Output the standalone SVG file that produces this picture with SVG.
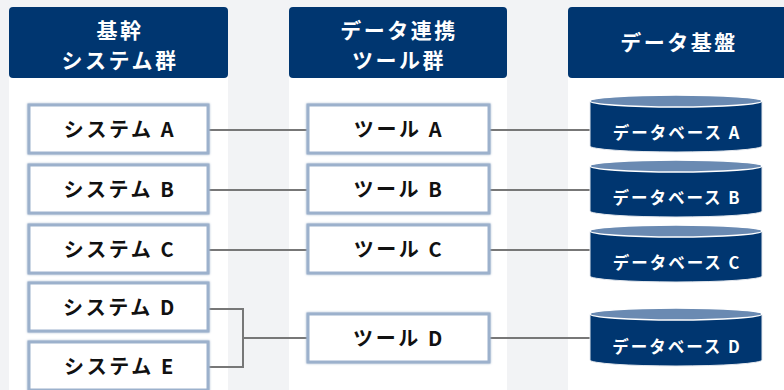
<svg xmlns="http://www.w3.org/2000/svg" width="784" height="390" viewBox="0 0 784 390">
<defs>
<style>
.hdr{fill:#003670}
.panel{fill:#ffffff}
.ht{font-family:"Noto Sans CJK JP","Noto Sans",sans-serif;font-weight:bold;font-size:21px;letter-spacing:2.5px;fill:#ffffff;text-anchor:middle}
.box{fill:#ffffff;stroke:#9cb1cc;stroke-width:3;filter:url(#soft)}
.bt{font-family:"Noto Sans CJK JP","Noto Sans",sans-serif;font-weight:bold;font-size:20px;letter-spacing:2.6px;fill:#111111;text-anchor:middle}
.dbb{fill:#003670;stroke:#e4e8ee;stroke-width:1}
.dbt{fill:#6a8ab2;stroke:#ffffff;stroke-width:1.5}
.dt{font-family:"Noto Sans CJK JP","Noto Sans",sans-serif;font-weight:bold;font-size:16.5px;letter-spacing:2px;fill:#ffffff;text-anchor:middle}
.conn{fill:none;stroke:#777777;stroke-width:2}
</style>
<filter id="soft" x="-10%" y="-20%" width="120%" height="140%">
<feGaussianBlur in="SourceGraphic" stdDeviation="0.9" result="b"/>
<feMerge><feMergeNode in="b"/><feMergeNode in="SourceGraphic"/></feMerge>
</filter>
</defs>
<rect width="784" height="390" fill="#f2f3f5"/>
<rect class="panel" x="9" y="10" width="219" height="380"/>
<rect class="panel" x="289" y="10" width="218" height="380"/>
<rect class="panel" x="568" y="10" width="216" height="380"/>

<g id="header1"><rect class="hdr" x="9" y="7" width="219" height="71" rx="4"/><text class="ht" x="120" y="38">基幹</text><text class="ht" x="120" y="68">システム群</text></g>
<g id="header2"><rect class="hdr" x="289" y="7" width="218" height="71" rx="4"/><text class="ht" x="399" y="38">データ連携</text><text class="ht" x="399" y="68">ツール群</text></g>
<g id="header3"><rect class="hdr" x="568" y="7" width="220" height="71" rx="4"/><text class="ht" x="679" y="50">データ基盤</text></g>

<g id="connectors">
<line class="conn" x1="209" y1="130" x2="307" y2="130"/>
<line class="conn" x1="209" y1="190" x2="307" y2="190"/>
<line class="conn" x1="209" y1="250" x2="307" y2="250"/>
<path class="conn" d="M208,309 H243 V367 H208 M243,338 H307"/>
<line class="conn" x1="490" y1="130" x2="590" y2="130"/>
<line class="conn" x1="490" y1="190" x2="590" y2="190"/>
<line class="conn" x1="490" y1="250" x2="590" y2="250"/>
<line class="conn" x1="490" y1="338" x2="590" y2="338"/>
</g>

<g id="sysA"><rect class="box" x="29" y="105" width="179" height="48"/><text class="bt" x="120" y="137">システム A</text></g>
<g id="sysB"><rect class="box" x="29" y="165" width="179" height="48"/><text class="bt" x="120" y="197">システム B</text></g>
<g id="sysC"><rect class="box" x="29" y="225" width="179" height="48"/><text class="bt" x="120" y="257">システム C</text></g>
<g id="sysD"><rect class="box" x="29" y="283" width="179" height="48"/><text class="bt" x="120" y="315">システム D</text></g>
<g id="sysE"><rect class="box" x="29" y="342" width="179" height="48"/><text class="bt" x="120" y="374">システム E</text></g>

<g id="toolA"><rect class="box" x="308" y="105" width="181" height="48"/><text class="bt" x="399" y="137">ツール A</text></g>
<g id="toolB"><rect class="box" x="308" y="165" width="181" height="48"/><text class="bt" x="399" y="197">ツール B</text></g>
<g id="toolC"><rect class="box" x="308" y="225" width="181" height="48"/><text class="bt" x="399" y="257">ツール C</text></g>
<g id="toolD"><rect class="box" x="308" y="314" width="181" height="48"/><text class="bt" x="399" y="346">ツール D</text></g>

<g id="dbA"><path class="dbb" d="M590,101 V146 A86,6 0 0 0 762,146 V101 Z"/><ellipse class="dbt" cx="676" cy="101" rx="86" ry="6"/><text class="dt" x="677" y="139">データベース A</text></g>
<g id="dbB"><path class="dbb" d="M590,166 V211 A86,6 0 0 0 762,211 V166 Z"/><ellipse class="dbt" cx="676" cy="166" rx="86" ry="6"/><text class="dt" x="677" y="204">データベース B</text></g>
<g id="dbC"><path class="dbb" d="M590,231 V276 A86,6 0 0 0 762,276 V231 Z"/><ellipse class="dbt" cx="676" cy="231" rx="86" ry="6"/><text class="dt" x="677" y="269">データベース C</text></g>
<g id="dbD"><path class="dbb" d="M590,314 V360 A86,6 0 0 0 762,360 V314 Z"/><ellipse class="dbt" cx="676" cy="314" rx="86" ry="6"/><text class="dt" x="677" y="353">データベース D</text></g>
</svg>
